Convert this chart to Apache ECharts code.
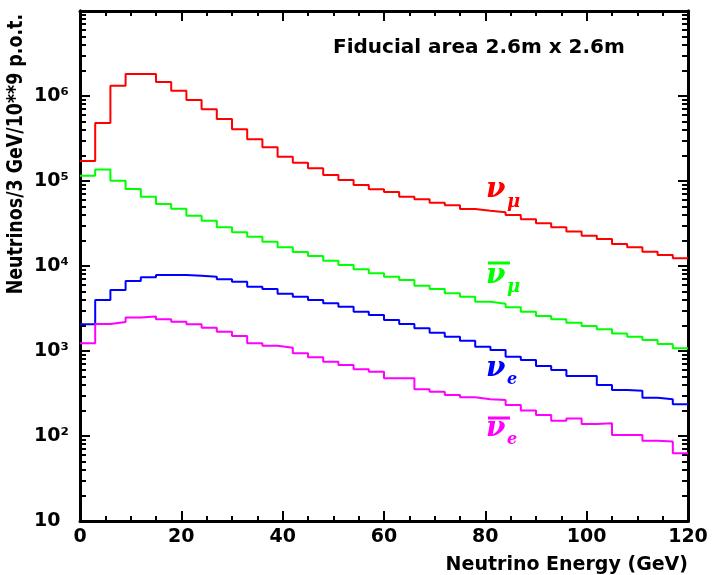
<!DOCTYPE html>
<html>
<head>
<meta charset="utf-8">
<script src="https://cdn.jsdelivr.net/npm/echarts@6/dist/echarts.min.js"></script>
<style>
  html, body { margin: 0; padding: 0; background: #ffffff; }
  #chart { width: 712px; height: 575px; }
</style>
</head>
<body>
<div id="chart"></div>
<script>
// Energy binning of the flux histograms (GeV)
const BIN_WIDTH = 3;
const ENERGY_MIN = 0;
const ENERGY_MAX = 120;

// Decade ticks of the flux axis and their labels
const decadeTicks = [10, 100, 1000, 10000, 100000, 1000000];
const decadeLabels = ['10', '10²', '10³', '10⁴', '10⁵', '10⁶'];

// Neutrinos / 3 GeV / 10**9 p.o.t., one value per 3 GeV bin from 0 to 120 GeV
const numuFlux = [
  1.72e5, 4.8e5, 1.32e6, 1.82e6, 1.82e6, 1.46e6, 1.15e6, 8.97e5, 6.97e5, 5.36e5,
  4.06e5, 3.1e5, 2.49e5, 1.93e5, 1.64e5, 1.41e5, 1.18e5, 1.03e5, 8.98e4, 7.98e4,
  7.43e4, 6.54e4, 6.09e4, 5.56e4, 5.17e4, 4.69e4, 4.48e4, 4.3e4, 3.98e4, 3.54e4,
  3.18e4, 2.85e4, 2.54e4, 2.27e4, 2.08e4, 1.82e4, 1.66e4, 1.47e4, 1.35e4, 1.23e4
];
const numubarFlux = [
  1.15e5, 1.37e5, 1.01e5, 8.05e4, 6.54e4, 5.36e4, 4.72e4, 3.91e4, 3.41e4, 2.85e4,
  2.49e4, 2.21e4, 1.93e4, 1.66e4, 1.46e4, 1.31e4, 1.15e4, 1.03e4, 9.15e3, 8.2e3,
  7.48e3, 6.84e3, 5.86e3, 5.36e3, 4.77e3, 4.35e3, 3.8e3, 3.6e3, 3.27e3, 2.9e3,
  2.58e3, 2.36e3, 2.15e3, 1.97e3, 1.8e3, 1.61e3, 1.47e3, 1.35e3, 1.21e3, 1.08e3
];
const nueFlux = [
  2.06e3, 3.98e3, 5.22e3, 6.67e3, 7.37e3, 7.84e3, 7.84e3, 7.7e3, 7.48e3, 6.97e3,
  6.54e3, 5.71e3, 5.36e3, 4.73e3, 4.35e3, 3.98e3, 3.64e3, 3.32e3, 2.9e3, 2.65e3,
  2.32e3, 2.08e3, 1.85e3, 1.64e3, 1.47e3, 1.32e3, 1.12e3, 1.03e3, 857, 784,
  667, 598, 508, 508, 398, 348, 341, 282, 270, 236
];
const nuebarFlux = [
  1.23e3, 2.08e3, 2.19e3, 2.47e3, 2.54e3, 2.36e3, 2.21e3, 2.06e3, 1.88e3, 1.69e3,
  1.5e3, 1.23e3, 1.15e3, 1.09e3, 940, 843, 749, 684, 609, 571,
  477, 477, 354, 332, 303, 285, 270, 265, 232, 199,
  177, 151, 161, 138, 141, 103, 103, 88, 86, 62.5
];

// Minor log ticks 2..9 within each decade
const minorTicks = [];
decadeTicks.forEach(function (d) {
  for (let m = 2; m <= 9; m++) minorTicks.push(m * d);
});

// Histogram outline: each bin starts at its low edge, the last bin closes at the upper edge
function histogramSteps(values) {
  const pts = values.map(function (v, i) { return [ENERGY_MIN + i * BIN_WIDTH, v]; });
  pts.push([ENERGY_MIN + values.length * BIN_WIDTH, values[values.length - 1]]);
  return pts;
}

const FONT = 'DejaVu Sans';
const INK = '#000000';

function xAxisDef(position, showLabels) {
  return {
    type: 'value', position: position, min: ENERGY_MIN, max: ENERGY_MAX, interval: 20,
    axisLine: { show: true, onZero: false, lineStyle: { color: INK, width: 3 } },
    axisTick: { show: true, inside: true, length: 10, lineStyle: { color: INK, width: 2 } },
    minorTick: { show: true, splitNumber: 4, length: 5, lineStyle: { color: INK, width: 2 } },
    splitLine: { show: false },
    minorSplitLine: { show: false },
    axisLabel: {
      show: showLabels, margin: 7, color: INK,
      fontFamily: FONT, fontWeight: 'bold', fontSize: 19
    }
  };
}

function yAxisDef(position, tickValues, tickLen, showLabels) {
  return {
    type: 'log', logBase: 10, position: position, min: 10, max: 1e7,
    axisLine: { show: true, onZero: false, lineStyle: { color: INK, width: 3 } },
    axisTick: { show: true, inside: true, length: tickLen, customValues: tickValues,
                lineStyle: { color: INK, width: 2 } },
    splitLine: { show: false },
    axisLabel: {
      show: showLabels, customValues: decadeTicks, margin: 46, align: 'left', color: INK,
      fontFamily: FONT, fontWeight: 'bold', fontSize: 19,
      formatter: function (v) {
        const e = Math.round(Math.log10(v));
        return decadeLabels[e - 1] || '';
      }
    }
  };
}

function stepSeries(name, values, color) {
  return {
    name: name, type: 'line', step: 'end', data: histogramSteps(values),
    symbol: 'none', showSymbol: false, clip: true,
    xAxisIndex: 0, yAxisIndex: 0,
    lineStyle: { color: color, width: 2 }
  };
}

function label(x, y, text, color, size, opts) {
  return Object.assign({
    type: 'text', x: x, y: y, z: 10,
    style: {
      text: text, fill: color, fontFamily: 'DejaVu Serif', fontStyle: 'italic',
      fontWeight: 'bold', fontSize: size, align: 'left', verticalAlign: 'middle'
    }
  }, opts || {});
}

function bar(x1, x2, y, color) {
  return { type: 'line', z: 10, shape: { x1: x1, y1: y, x2: x2, y2: y },
           style: { stroke: color, lineWidth: 3 } };
}

const chart = echarts.init(document.getElementById('chart'), null, { renderer: 'canvas' });

chart.setOption({
  animation: false,
  backgroundColor: '#ffffff',
  grid: { left: 80, right: 24, top: 11, bottom: 54, outerBoundsMode: 'none', containLabel: false },
  xAxis: [xAxisDef('bottom', true), xAxisDef('top', false)],
  yAxis: [
    yAxisDef('left', decadeTicks, 10, true),
    yAxisDef('left', minorTicks, 6, false),
    yAxisDef('right', decadeTicks, 10, false),
    yAxisDef('right', minorTicks, 6, false)
  ],
  series: [
    stepSeries('numu', numuFlux, '#ff0000'),
    stepSeries('numubar', numubarFlux, '#00ff00'),
    stepSeries('nue', nueFlux, '#0000ff'),
    stepSeries('nuebar', nuebarFlux, '#ff00ff')
  ],
  graphic: [
    {
      type: 'text', x: 333, y: 48,
      style: { text: 'Fiducial area 2.6m x 2.6m', fill: INK, fontFamily: FONT,
               fontWeight: 'bold', fontSize: 20, align: 'left', verticalAlign: 'middle' }
    },
    {
      type: 'text', x: 17, y: 14, rotation: Math.PI / 2, scaleX: 0.83,
      style: { text: 'Neutrinos/3 GeV/10**9 p.o.t.', fill: INK, fontFamily: FONT,
               fontWeight: 'bold', fontSize: 21, align: 'right', verticalAlign: 'middle' }
    },
    {
      type: 'text', x: 688, y: 565,
      style: { text: 'Neutrino Energy (GeV)', fill: INK, fontFamily: FONT,
               fontWeight: 'bold', fontSize: 19, align: 'right', verticalAlign: 'middle' }
    },
    // flavour tags next to each curve
    label(486, 190, 'ν', '#ff0000', 28),
    label(507, 202, 'μ', '#ff0000', 18),
    bar(488, 510, 263, '#00ff00'),
    label(486, 276, 'ν', '#00ff00', 28),
    label(507, 287, 'μ', '#00ff00', 18),
    label(486, 369, 'ν', '#0000ff', 28),
    label(507, 380, 'e', '#0000ff', 16),
    bar(488, 510, 418, '#ff00ff'),
    label(486, 429, 'ν', '#ff00ff', 28),
    label(507, 440, 'e', '#ff00ff', 16)
  ]
});
</script>
</body>
</html>
